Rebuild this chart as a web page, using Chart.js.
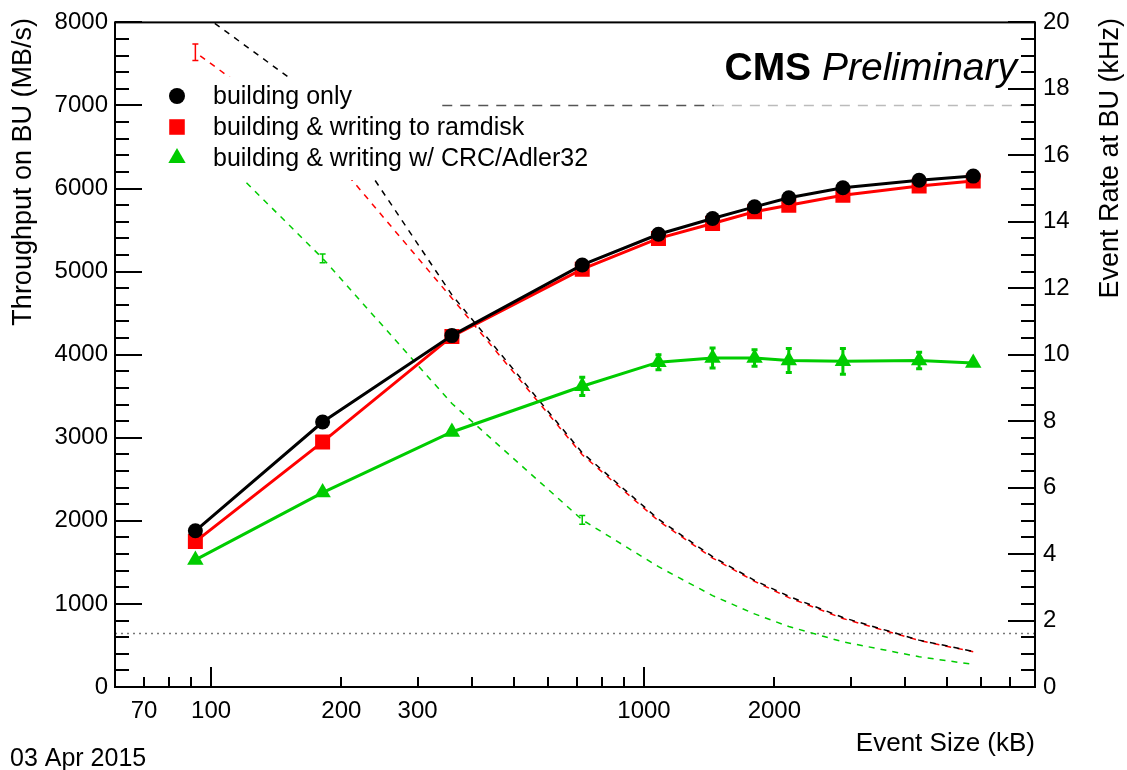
<!DOCTYPE html>
<html>
<head>
<meta charset="utf-8">
<script src="https://cdn.jsdelivr.net/npm/chart.js@4.4.1/dist/chart.umd.min.js"></script>
<style>
  html, body { margin: 0; padding: 0; background: #fff; }
  #wrap { width: 1127px; height: 770px; }
</style>
</head>
<body>
<div id="wrap"><canvas id="chart" width="1127" height="770"></canvas></div>
<script>
// event sizes (kB) of the measured points
const sizes = [92, 181, 360, 720, 1080, 1440, 1800, 2160, 2880, 4320, 5760];

// throughput on BU (MB/s), left axis
const thrBuild   = [1880, 3190, 4230, 5080, 5450, 5640, 5780, 5890, 6010, 6100, 6150];
const thrRamdisk = [1750, 2950, 4220, 5030, 5400, 5580, 5720, 5800, 5920, 6030, 6090];
const thrCrc     = [1530, 2340, 3070, 3620, 3910, 3960, 3960, 3930, 3920, 3930, 3900];
const thrCrcErr  = [0, 0, 0, 110, 90, 120, 100, 145, 155, 100, 0];

// event rate at BU (kHz), right axis
const rateBuild      = [20.4, 17.6, 11.8, 7.05, 5.05, 3.92, 3.21, 2.73, 2.09, 1.41, 1.07];
const rateRamdisk    = [19.1, 16.3, 11.7, 6.99, 5.00, 3.88, 3.18, 2.69, 2.06, 1.40, 1.06];
const rateRamdiskErr = [0.25, 0, 0, 0, 0, 0, 0, 0, 0, 0, 0];
const rateCrc        = [16.7, 12.9, 8.53, 5.03, 3.62, 2.75, 2.20, 1.82, 1.36, 0.91, 0.68];
const rateCrcErr     = [0, 0.13, 0, 0.13, 0, 0, 0, 0, 0, 0, 0];

// reference lines
const maxRate = 17.5;
const maxRateX = [342, 1450, 8000];
const limitRate = 1.61;

// axis ticks
const xLabels = [70, 100, 200, 300, 1000, 2000];
const xMarks = [60, 70, 80, 90, 100, 200, 300, 400, 500, 600, 700, 800, 900,
                1000, 2000, 3000, 4000, 5000, 6000, 7000, 8000];

const legendItems = ["building only", "building & writing to ramdisk", "building & writing w/ CRC/Adler32"];

const FONT = "'Liberation Sans', Arial, Helvetica, sans-serif";
const GREEN = "#00cc00";

const pts = (ys) => sizes.map((x, i) => ({ x: x, y: ys[i] }));

function drawMarker(ctx, style, x, y, r, color) {
  ctx.save();
  ctx.fillStyle = color;
  ctx.beginPath();
  if (style === "circle") {
    ctx.arc(x, y, r, 0, Math.PI * 2);
  } else if (style === "rect") {
    const s = r * Math.SQRT1_2;
    ctx.rect(x - s, y - s, 2 * s, 2 * s);
  } else {
    ctx.moveTo(x, y - r);
    ctx.lineTo(x + r * 0.866, y + r * 0.5);
    ctx.lineTo(x - r * 0.866, y + r * 0.5);
    ctx.closePath();
  }
  ctx.fill();
  ctx.restore();
}

function drawErrors(ctx, sx, sy, ys, errs, color, lw) {
  ctx.save();
  ctx.strokeStyle = color;
  ctx.lineWidth = lw;
  for (let i = 0; i < sizes.length; i++) {
    if (!errs[i]) continue;
    const px = sx.getPixelForValue(sizes[i]);
    const top = sy.getPixelForValue(ys[i] + errs[i]);
    const bot = sy.getPixelForValue(ys[i] - errs[i]);
    ctx.beginPath();
    ctx.moveTo(px, top); ctx.lineTo(px, bot);
    ctx.moveTo(px - 3, top); ctx.lineTo(px + 3, top);
    ctx.moveTo(px - 3, bot); ctx.lineTo(px + 3, bot);
    ctx.stroke();
  }
  ctx.restore();
}

const overlay = {
  id: "overlay",
  afterDatasetsDraw(chart) {
    const ctx = chart.ctx;
    const sx = chart.scales.x, yl = chart.scales.yL, yr = chart.scales.yR;

    drawErrors(ctx, sx, yl, thrCrc, thrCrcErr, GREEN, 3);
    drawErrors(ctx, sx, yr, rateRamdisk, rateRamdiskErr, "#ff0000", 1.5);
    drawErrors(ctx, sx, yr, rateCrc, rateCrcErr, GREEN, 1.5);

    // legend box (white fill hides the dashed curves behind it)
    ctx.save();
    ctx.fillStyle = "#fff";
    ctx.fillRect(150, 77, 290, 103);
    const styles = ["circle", "rect", "triangle"];
    const colors = ["#000", "#ff0000", GREEN];
    const radii = [8, 11, 10];
    ctx.font = "25px " + FONT;
    ctx.textBaseline = "middle";
    ctx.textAlign = "left";
    for (let i = 0; i < legendItems.length; i++) {
      const y = 96 + i * 31;
      drawMarker(ctx, styles[i], 177, y, radii[i], colors[i]);
      ctx.fillStyle = "#000";
      ctx.fillText(legendItems[i], 213, y + 1);
    }
    ctx.restore();
  },
  afterDraw(chart) {
    const ctx = chart.ctx, a = chart.chartArea;
    const sx = chart.scales.x, yl = chart.scales.yL, yr = chart.scales.yR;
    ctx.save();
    ctx.strokeStyle = "#000";
    ctx.lineWidth = 2;
    ctx.strokeRect(a.left, a.top, a.right - a.left, a.bottom - a.top);

    ctx.beginPath();
    // left axis ticks, pointing inwards
    for (let v = 0; v <= 8000; v += 200) {
      const y = Math.round(yl.getPixelForValue(v));
      ctx.moveTo(a.left, y);
      ctx.lineTo(a.left + (v % 1000 === 0 ? 27 : 14), y);
    }
    // right axis ticks
    for (let v = 0; v <= 20; v += 0.5) {
      const y = Math.round(yr.getPixelForValue(v));
      ctx.moveTo(a.right, y);
      ctx.lineTo(a.right - (v % 2 === 0 ? 27 : 14), y);
    }
    // bottom axis ticks (log)
    xMarks.forEach(v => {
      const x = Math.round(sx.getPixelForValue(v));
      const decade = Math.abs(Math.log10(v) % 1) < 1e-9;
      ctx.moveTo(x, a.bottom);
      ctx.lineTo(x, a.bottom - (decade ? 20 : 10));
    });
    ctx.stroke();

    // axis titles
    ctx.fillStyle = "#000";
    ctx.font = "27px " + FONT;
    ctx.textBaseline = "middle";
    ctx.textAlign = "right";
    ctx.save();
    ctx.translate(24, 18);
    ctx.rotate(-Math.PI / 2);
    ctx.fillText("Throughput on BU (MB/s)", 0, 0);
    ctx.restore();
    ctx.save();
    ctx.translate(1111, 18);
    ctx.rotate(-Math.PI / 2);
    ctx.fillText("Event Rate at BU (kHz)", 0, 0);
    ctx.restore();
    ctx.font = "26px " + FONT;
    ctx.textBaseline = "alphabetic";
    ctx.fillText("Event Size (kB)", a.right, 751);

    ctx.textAlign = "left";
    ctx.font = "25px " + FONT;
    ctx.fillText("03 Apr 2015", 10, 766);

    // CMS Preliminary
    ctx.font = "italic 39px " + FONT;
    const wPre = ctx.measureText("Preliminary").width;
    ctx.font = "bold 39px " + FONT;
    const wCms = ctx.measureText("CMS ").width;
    const x0 = 1017 - wPre - wCms;
    ctx.fillText("CMS ", x0, 80);
    ctx.font = "italic 39px " + FONT;
    ctx.fillText("Preliminary", x0 + wCms, 80);
    ctx.restore();
  }
};

const solid = (label, ys, color, style, r) => ({
  label: label, data: pts(ys), yAxisID: "yL", order: 0,
  borderColor: color, backgroundColor: color, borderWidth: 3,
  pointStyle: style, pointRadius: r, pointBackgroundColor: color,
  pointBorderWidth: 0, tension: 0
});
const dashed = (ys, color, offset) => ({
  data: pts(ys), yAxisID: "yR", order: 2,
  borderColor: color, borderWidth: 1.5, borderDash: [6, 6], borderDashOffset: offset,
  pointRadius: 0, tension: 0
});
const refLine = (data, color, dash) => ({
  data: data, yAxisID: "yR", order: 3,
  borderColor: color, borderWidth: 1.5, borderDash: dash, pointRadius: 0
});

new Chart(document.getElementById("chart"), {
  type: "line",
  data: {
    datasets: [
      solid(legendItems[0], thrBuild, "#000000", "circle", 7.5),
      solid(legendItems[1], thrRamdisk, "#ff0000", "rect", 10.6),
      solid(legendItems[2], thrCrc, GREEN, "triangle", 9.5),
      dashed(rateBuild, "#000000", 0),
      dashed(rateRamdisk, "#ff0000", 6),
      dashed(rateCrc, GREEN, 0),
      refLine([{ x: maxRateX[0], y: maxRate }, { x: maxRateX[1], y: maxRate }], "#555555", [10, 8]),
      refLine([{ x: maxRateX[1], y: maxRate }, { x: maxRateX[2], y: maxRate }], "#bbbbbb", [10, 8]),
      refLine([{ x: 60, y: limitRate }, { x: 8000, y: limitRate }], "#777777", [2, 4])
    ]
  },
  options: {
    responsive: false,
    animation: false,
    devicePixelRatio: 1,
    events: [],
    layout: { padding: { top: 20, left: 0, right: 0, bottom: 0 } },
    plugins: { legend: { display: false }, tooltip: { enabled: false } },
    scales: {
      x: {
        type: "logarithmic", min: 60, max: 8000,
        grid: { display: false, drawTicks: false }, border: { display: false },
        afterBuildTicks: s => { s.ticks = xLabels.map(v => ({ value: v })); },
        afterFit: s => { s.height = 83; },
        ticks: {
          autoSkip: false, maxRotation: 0, minRotation: 0, padding: 10,
          color: "#000", font: { family: FONT, size: 24 },
          callback: v => String(v)
        }
      },
      yL: {
        type: "linear", position: "left", min: 0, max: 8000,
        grid: { display: false, drawTicks: false }, border: { display: false },
        afterFit: s => { s.width = 115; },
        ticks: { stepSize: 1000, padding: 7, color: "#000", font: { family: FONT, size: 24 },
                 callback: v => String(v) }
      },
      yR: {
        type: "linear", position: "right", min: 0, max: 20,
        grid: { display: false, drawTicks: false }, border: { display: false },
        afterFit: s => { s.width = 92; },
        ticks: { stepSize: 2, padding: 8, color: "#000", font: { family: FONT, size: 24 },
                 callback: v => String(v) }
      }
    }
  },
  plugins: [overlay]
});
</script>
</body>
</html>
